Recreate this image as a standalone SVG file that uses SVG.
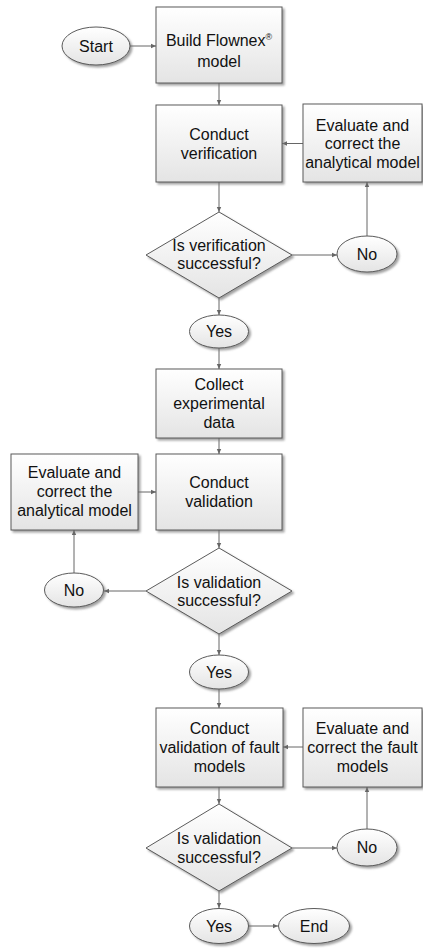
<svg xmlns="http://www.w3.org/2000/svg" width="423" height="949" viewBox="0 0 423 949">
  <defs>
    <linearGradient id="fillGrad" x1="0" y1="0" x2="0" y2="1">
      <stop offset="0" stop-color="#ffffff"/>
      <stop offset="1" stop-color="#e4e4e4"/>
    </linearGradient>
    <filter id="shadow" x="-10%" y="-10%" width="130%" height="130%">
      <feDropShadow dx="2" dy="2" stdDeviation="0.8" flood-color="#6e6e6e" flood-opacity="0.65"/>
    </filter>
    <marker id="arrow" markerWidth="6" markerHeight="6" refX="5" refY="3" orient="auto" markerUnits="userSpaceOnUse">
      <path d="M0,0.8 L5,3 L0,5.2 Z" fill="#666666"/>
    </marker>
  </defs>
  <style>
    .shape { fill: url(#fillGrad); stroke: #5a5a5a; stroke-width: 1; filter: url(#shadow); }
    .label { font-family: "Liberation Sans", Arial, sans-serif; font-size: 16px; fill: #111111; text-anchor: middle; }
    .sup { font-size: 9px; }
    .conn { fill: none; stroke: #666666; stroke-width: 1; marker-end: url(#arrow); }
  </style>

  <!-- connectors -->
  <g id="connectors">
    <line class="conn" x1="130" y1="46" x2="156" y2="46"/>
    <line class="conn" x1="219" y1="83" x2="219" y2="105"/>
    <line class="conn" x1="303" y1="143.5" x2="282" y2="143.5"/>
    <line class="conn" x1="219" y1="182" x2="219" y2="212"/>
    <line class="conn" x1="292" y1="255" x2="337" y2="255"/>
    <line class="conn" x1="367" y1="236" x2="367" y2="182"/>
    <line class="conn" x1="219" y1="298" x2="219" y2="315"/>
    <line class="conn" x1="219" y1="348" x2="219" y2="369"/>
    <line class="conn" x1="219" y1="438" x2="219" y2="454"/>
    <line class="conn" x1="138" y1="492" x2="156" y2="492"/>
    <line class="conn" x1="219" y1="530" x2="219" y2="548"/>
    <line class="conn" x1="146" y1="591" x2="104" y2="591"/>
    <line class="conn" x1="74" y1="573" x2="74" y2="530"/>
    <line class="conn" x1="219" y1="634" x2="219" y2="655"/>
    <line class="conn" x1="219" y1="689" x2="219" y2="708"/>
    <line class="conn" x1="303" y1="747" x2="283" y2="747"/>
    <line class="conn" x1="219" y1="787" x2="219" y2="804"/>
    <line class="conn" x1="292" y1="848" x2="337" y2="848"/>
    <line class="conn" x1="367" y1="829" x2="367" y2="787"/>
    <line class="conn" x1="219" y1="891" x2="219" y2="908"/>
    <line class="conn" x1="248" y1="926" x2="278" y2="926"/>
  </g>

  <!-- start terminal -->
  <g id="start">
    <ellipse class="shape" cx="96" cy="46" rx="34" ry="19"/>
    <text class="label" x="96" y="51.5">Start</text>
  </g>

  <g id="build-model">
    <rect class="shape" x="156" y="7" width="126" height="76"/>
    <text class="label" x="219" y="46">Build Flownex<tspan class="sup" dy="-6">®</tspan></text>
    <text class="label" x="219" y="67">model</text>
  </g>

  <g id="conduct-verification">
    <rect class="shape" x="156" y="105" width="126" height="77"/>
    <text class="label" x="219" y="139.5">Conduct</text>
    <text class="label" x="219" y="158.5">verification</text>
  </g>

  <g id="evaluate-analytical-1">
    <rect class="shape" x="303" y="104" width="119" height="78"/>
    <text class="label" x="362.5" y="130.5">Evaluate and</text>
    <text class="label" x="362.5" y="149">correct the</text>
    <text class="label" x="362.5" y="167.5">analytical model</text>
  </g>

  <g id="decision-verification">
    <polygon class="shape" points="219,212 292,255 219,298 146,255"/>
    <text class="label" x="219" y="250.5">Is verification</text>
    <text class="label" x="219" y="268.5">successful?</text>
  </g>

  <g id="no-1">
    <ellipse class="shape" cx="367" cy="254" rx="30" ry="18"/>
    <text class="label" x="367" y="259.5">No</text>
  </g>

  <g id="yes-1">
    <ellipse class="shape" cx="219" cy="331.5" rx="29.5" ry="16.5"/>
    <text class="label" x="219" y="337">Yes</text>
  </g>

  <g id="collect-data">
    <rect class="shape" x="156" y="369" width="126" height="69"/>
    <text class="label" x="219" y="389.5">Collect</text>
    <text class="label" x="219" y="408.5">experimental</text>
    <text class="label" x="219" y="427.5">data</text>
  </g>

  <g id="conduct-validation">
    <rect class="shape" x="156" y="454" width="126" height="76"/>
    <text class="label" x="219" y="487.5">Conduct</text>
    <text class="label" x="219" y="507">validation</text>
  </g>

  <g id="evaluate-analytical-2">
    <rect class="shape" x="11" y="454" width="127" height="76"/>
    <text class="label" x="74.5" y="477.5">Evaluate and</text>
    <text class="label" x="74.5" y="496.5">correct the</text>
    <text class="label" x="74.5" y="515.5">analytical model</text>
  </g>

  <g id="decision-validation">
    <polygon class="shape" points="219,548 292,591 219,634 146,591"/>
    <text class="label" x="219" y="587.5">Is validation</text>
    <text class="label" x="219" y="605.5">successful?</text>
  </g>

  <g id="no-2">
    <ellipse class="shape" cx="74" cy="590" rx="29.5" ry="17"/>
    <text class="label" x="74" y="595.5">No</text>
  </g>

  <g id="yes-2">
    <ellipse class="shape" cx="219" cy="672" rx="29.5" ry="17"/>
    <text class="label" x="219" y="677.5">Yes</text>
  </g>

  <g id="conduct-fault-validation">
    <rect class="shape" x="156" y="708" width="127" height="79"/>
    <text class="label" x="219.5" y="733.5">Conduct</text>
    <text class="label" x="219.5" y="752.5">validation of fault</text>
    <text class="label" x="219.5" y="771.5">models</text>
  </g>

  <g id="evaluate-fault">
    <rect class="shape" x="303" y="708" width="119" height="79"/>
    <text class="label" x="362.5" y="733.5">Evaluate and</text>
    <text class="label" x="362.5" y="752.5">correct the fault</text>
    <text class="label" x="362.5" y="771.5">models</text>
  </g>

  <g id="decision-fault-validation">
    <polygon class="shape" points="219,804 292,848 219,891 146,848"/>
    <text class="label" x="219" y="843.5">Is validation</text>
    <text class="label" x="219" y="862.5">successful?</text>
  </g>

  <g id="no-3">
    <ellipse class="shape" cx="367" cy="847.5" rx="30" ry="18.5"/>
    <text class="label" x="367" y="853">No</text>
  </g>

  <g id="yes-3">
    <ellipse class="shape" cx="219" cy="926" rx="29.5" ry="17.5"/>
    <text class="label" x="219" y="931.5">Yes</text>
  </g>

  <!-- end terminal -->
  <g id="end">
    <ellipse class="shape" cx="314" cy="926" rx="35.5" ry="17.5"/>
    <text class="label" x="314" y="931.5">End</text>
  </g>
</svg>
